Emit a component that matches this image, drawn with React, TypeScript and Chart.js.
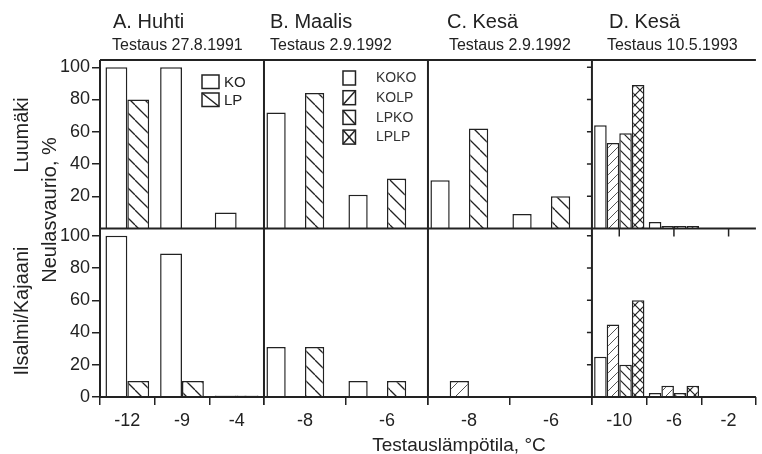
import React, { useEffect, useRef } from "react";
import { Chart, BarController, registerables } from "chart.js";

Chart.register(...registerables);

// Each panel has its own category x-axis; keep bar grouping per axis
// (newer Chart.js versions split groups across all index axes).
const barProto: any = BarController.prototype;
if (typeof barProto._getAxisCount === "function") {
  barProto._getAxisCount = function () {
    return 1;
  };
}
if (typeof barProto._getAxis === "function") {
  barProto._getAxis = function () {
    const ds = this.getDataset();
    return [this.chart.options.indexAxis === "y" ? ds.yAxisID : ds.xAxisID];
  };
}

// ---------- categories (test temperatures, °C) ----------
const catsA = ["-12", "-9", "-4"];
const catsB = ["-8", "-6"];
const catsC = ["-8", "-6"];
const catsD = ["-10", "-6", "-2"];

// ---------- series names ----------
const seriesA = ["KO", "LP"];
const seriesBCD = ["KOKO", "KOLP", "LPKO", "LPLP"];

// ---------- Luumäki (top row), needle damage % ----------
const luuA_KO = [100, 100, 10];
const luuA_LP = [80, 0, 0];
const luuB_KOKO = [72, 21];
const luuB_KOLP = [0, 0];
const luuB_LPKO = [84, 31];
const luuB_LPLP = [0, 0];
const luuC_KOKO = [30, 9];
const luuC_KOLP = [0, 0];
const luuC_LPKO = [62, 20];
const luuC_LPLP = [0, 0];
const luuD_KOKO = [64, 4, 0];
const luuD_KOLP = [53, 1.5, 0];
const luuD_LPKO = [59, 1.5, 0];
const luuD_LPLP = [89, 1.5, 0];

// ---------- Iisalmi/Kajaani (bottom row), needle damage % ----------
const iisA_KO = [100, 89, 1];
const iisA_LP = [10, 10, 1];
const iisB_KOKO = [31, 10];
const iisB_KOLP = [0, 0];
const iisB_LPKO = [31, 10];
const iisB_LPLP = [0, 0];
const iisC_KOKO = [0, 0];
const iisC_KOLP = [10, 0];
const iisC_LPKO = [0, 0];
const iisC_LPLP = [0, 0];
const iisD_KOKO = [25, 2.5, 0];
const iisD_KOLP = [45, 7, 0];
const iisD_LPKO = [20, 2.5, 0];
const iisD_LPLP = [60, 7, 0];

// ---------- tick values ----------
const yTopTicks = [20, 40, 60, 80, 100];
const yBotTicks = [0, 20, 40, 60, 80, 100];

// ---------- texts ----------
const colTitles = ["A. Huhti", "B. Maalis", "C. Kesä", "D. Kesä"];
const colSubtitles = ["Testaus 27.8.1991", "Testaus 2.9.1992", "Testaus 2.9.1992", "Testaus 10.5.1993"];
const rowTitles = ["Luumäki", "Ilsalmi/Kajaani"];
const yTitle = "Neulasvaurio, %";
const xTitle = "Testauslämpötila, °C";

// ---------- layout / style constants ----------
const FONT = "'Liberation Sans', Arial, Helvetica, sans-serif";
const INK = "#222";
const TITLE_DX = [13, 6, 19, 17];
const SUB_DX = [12, 6, 21, 15];

export default function App() {
  const ref = useRef<HTMLCanvasElement>(null);

  useEffect(() => {
    const canvas = ref.current as HTMLCanvasElement;
    const ctx = canvas.getContext("2d") as CanvasRenderingContext2D;

    const makePattern = (kind: string, size: number, lw: number, color: string) => {
      const c = document.createElement("canvas");
      c.width = size;
      c.height = size;
      const g = c.getContext("2d") as CanvasRenderingContext2D;
      g.fillStyle = "#fff";
      g.fillRect(0, 0, size, size);
      g.strokeStyle = color;
      g.lineWidth = lw;
      const back = () => {
        for (const k of [-1, 0, 1]) {
          g.beginPath();
          g.moveTo(k * size, 0);
          g.lineTo(k * size + size, size);
          g.stroke();
        }
      };
      const fwd = () => {
        for (const k of [-1, 0, 1]) {
          g.beginPath();
          g.moveTo(k * size, size);
          g.lineTo(k * size + size, 0);
          g.stroke();
        }
      };
      if (kind === "back" || kind === "cross") back();
      if (kind === "fwd" || kind === "cross") fwd();
      return ctx.createPattern(c, "repeat") as CanvasPattern;
    };

    const bigStyles: Record<string, any> = {
      KO: "#fff",
      LP: makePattern("back", 15, 1.3, INK),
      KOKO: "#fff",
      KOLP: makePattern("fwd", 12, 1, "#555"),
      LPKO: makePattern("back", 15, 1.3, INK),
      LPLP: makePattern("cross", 12, 1.2, INK),
    };
    const smallStyles: Record<string, any> = {
      KOKO: "#fff",
      KOLP: makePattern("fwd", 9, 1, "#555"),
      LPKO: makePattern("back", 10, 1.2, INK),
      LPLP: makePattern("cross", 10, 1.2, INK),
    };

    const columns = [
      { id: "xA", series: seriesA, top: [luuA_KO, luuA_LP], bot: [iisA_KO, iisA_LP], pct: 0.8, styles: bigStyles },
      { id: "xB", series: seriesBCD, top: [luuB_KOKO, luuB_KOLP, luuB_LPKO, luuB_LPLP], bot: [iisB_KOKO, iisB_KOLP, iisB_LPKO, iisB_LPLP], pct: 0.94, styles: bigStyles },
      { id: "xC", series: seriesBCD, top: [luuC_KOKO, luuC_KOLP, luuC_LPKO, luuC_LPLP], bot: [iisC_KOKO, iisC_KOLP, iisC_LPKO, iisC_LPLP], pct: 0.94, styles: bigStyles },
      { id: "xD", series: seriesBCD, top: [luuD_KOKO, luuD_KOLP, luuD_LPKO, luuD_LPLP], bot: [iisD_KOKO, iisD_KOLP, iisD_LPKO, iisD_LPLP], pct: 0.92, styles: smallStyles },
    ];

    const datasets: any[] = [];
    for (const col of columns) {
      for (const [rowKey, rows] of [["yTop", col.top], ["yBot", col.bot]] as [string, number[][]][]) {
        col.series.forEach((name, i) => {
          datasets.push({
            label: `${rowKey} ${col.id} ${name}`,
            data: rows[i],
            xAxisID: col.id,
            yAxisID: rowKey,
            stack: name,
            backgroundColor: col.styles[name],
            borderColor: INK,
            borderWidth: 1.5,
            categoryPercentage: col.pct,
            barPercentage: 1.0,
          });
        });
      }
    }

    const xScale = (labels: string[], weight: number) => ({
      type: "category",
      labels,
      position: "bottom",
      stack: "cols",
      stackWeight: 1,
      weight,
      offset: true,
      grid: { display: true, drawOnChartArea: false, drawTicks: true, tickLength: 8, color: INK, lineWidth: 1.5 },
      border: { display: false },
      ticks: { color: INK, font: { size: 18, family: FONT }, padding: 5, maxRotation: 0, autoSkip: false },
      afterFit: (s: any) => {
        s.height = 57;
      },
    });

    const yScale = (ticks: number[], weight: number) => ({
      type: "linear",
      position: "left",
      stack: "rows",
      stackWeight: 1,
      weight,
      min: 0,
      max: 104.5,
      afterBuildTicks: (s: any) => {
        s.ticks = ticks.map((v) => ({ value: v }));
      },
      grid: { display: true, drawOnChartArea: false, drawTicks: true, tickLength: 8, color: INK, lineWidth: 1.5 },
      border: { display: false },
      ticks: { color: INK, font: { size: 18, family: FONT }, padding: 2, autoSkip: false },
      afterFit: (s: any) => {
        s.width = 100;
      },
    });

    const line = (x1: number, y1: number, x2: number, y2: number) => {
      ctx.beginPath();
      ctx.moveTo(x1, y1);
      ctx.lineTo(x2, y2);
      ctx.stroke();
    };

    const vtext = (text: string, x: number, y: number, size: number) => {
      ctx.save();
      ctx.translate(x, y);
      ctx.rotate(-Math.PI / 2);
      ctx.font = `${size}px ${FONT}`;
      ctx.textAlign = "center";
      ctx.textBaseline = "alphabetic";
      ctx.fillText(text, 0, 0);
      ctx.restore();
    };

    const legendBox = (kind: string, x: number, y: number, w: number, h: number) => {
      ctx.fillStyle = "#fff";
      ctx.fillRect(x, y, w, h);
      ctx.strokeRect(x, y, w, h);
      if (kind === "back" || kind === "cross") line(x, y, x + w, y + h);
      if (kind === "fwd" || kind === "cross") line(x, y + h, x + w, y);
    };

    const decor = {
      id: "decor",
      afterDatasetsDraw(chart: any) {
        const { chartArea: ca, scales } = chart;
        const xs = [scales.xA, scales.xB, scales.xC, scales.xD];
        const yTop = scales.yTop;
        const yBot = scales.yBot;
        ctx.save();
        ctx.strokeStyle = INK;
        ctx.lineWidth = 2;
        const mid = yTop.getPixelForValue(0);
        const base = yBot.getPixelForValue(0);
        line(ca.left, ca.top, ca.right, ca.top);
        line(ca.left, ca.top, ca.left, ca.bottom);
        line(ca.left, mid, ca.right, mid);
        line(ca.left, base, ca.right, base);
        for (let i = 1; i < xs.length; i++) line(xs[i].left, ca.top, xs[i].left, ca.bottom);
        // D panel: own left-axis ticks and top-row x ticks
        ctx.lineWidth = 1.5;
        const xd = xs[3];
        yTopTicks.forEach((v) => line(xd.left - 5, yTop.getPixelForValue(v), xd.left, yTop.getPixelForValue(v)));
        yBotTicks.forEach((v) => line(xd.left - 5, yBot.getPixelForValue(v), xd.left, yBot.getPixelForValue(v)));
        catsD.forEach((_, i) => line(xd.getPixelForValue(i), mid, xd.getPixelForValue(i), mid + 8));

        // legends
        ctx.lineWidth = 1.5;
        const la = xs[0].left + 102;
        const lat = ca.top + 15;
        const kindsA = ["none", "back"];
        seriesA.forEach((name, i) => {
          const y = lat + i * 18;
          legendBox(kindsA[i], la, y, 17, 13.5);
          ctx.fillStyle = INK;
          ctx.font = `15px ${FONT}`;
          ctx.textAlign = "left";
          ctx.textBaseline = "middle";
          ctx.fillText(name, la + 22, y + 7.5);
        });
        const lb = xs[1].left + 79;
        const lbt = ca.top + 11;
        const kindsB = ["none", "fwd", "back", "cross"];
        seriesBCD.forEach((name, i) => {
          const y = lbt + i * 19.7;
          legendBox(kindsB[i], lb, y, 12.5, 14);
          ctx.fillStyle = "#333";
          ctx.font = `14px ${FONT}`;
          ctx.textAlign = "left";
          ctx.textBaseline = "middle";
          ctx.fillText(name, lb + 33, y + 7.5);
        });
        ctx.restore();
      },
      afterDraw(chart: any) {
        const { scales } = chart;
        const xs = [scales.xA, scales.xB, scales.xC, scales.xD];
        ctx.save();
        ctx.fillStyle = INK;
        ctx.textAlign = "left";
        ctx.textBaseline = "alphabetic";
        xs.forEach((s, i) => {
          ctx.font = `20px ${FONT}`;
          ctx.fillText(colTitles[i], s.left + TITLE_DX[i], 28);
          ctx.font = `16px ${FONT}`;
          ctx.fillText(colSubtitles[i], s.left + SUB_DX[i], 50);
        });
        vtext(rowTitles[0], 28, 135, 20);
        vtext(rowTitles[1], 28.3, 311, 20);
        vtext(yTitle, 56, 210, 20);
        ctx.font = `19px ${FONT}`;
        ctx.textAlign = "center";
        ctx.fillText(xTitle, 459, 451);
        ctx.restore();
      },
    };

    const chart = new Chart(canvas, {
      type: "bar",
      data: { datasets },
      options: {
        responsive: false,
        animation: false,
        layout: { padding: { top: 60, left: 0, right: 0, bottom: 0 } },
        plugins: { legend: { display: false }, tooltip: { enabled: false } },
        scales: {
          xA: xScale(catsA, 1),
          xB: xScale(catsB, 2),
          xC: xScale(catsC, 3),
          xD: xScale(catsD, 4),
          yTop: yScale(yTopTicks, 2),
          yBot: yScale(yBotTicks, 1),
        } as any,
      },
      plugins: [decor],
    } as any);

    return () => chart.destroy();
  }, []);

  return (
    <div style={{ position: "absolute", left: 0, top: 0, width: 762, height: 454, background: "#fff" }}>
      <canvas ref={ref} width={762} height={454} style={{ display: "block", width: 762, height: 454 }} />
    </div>
  );
}
